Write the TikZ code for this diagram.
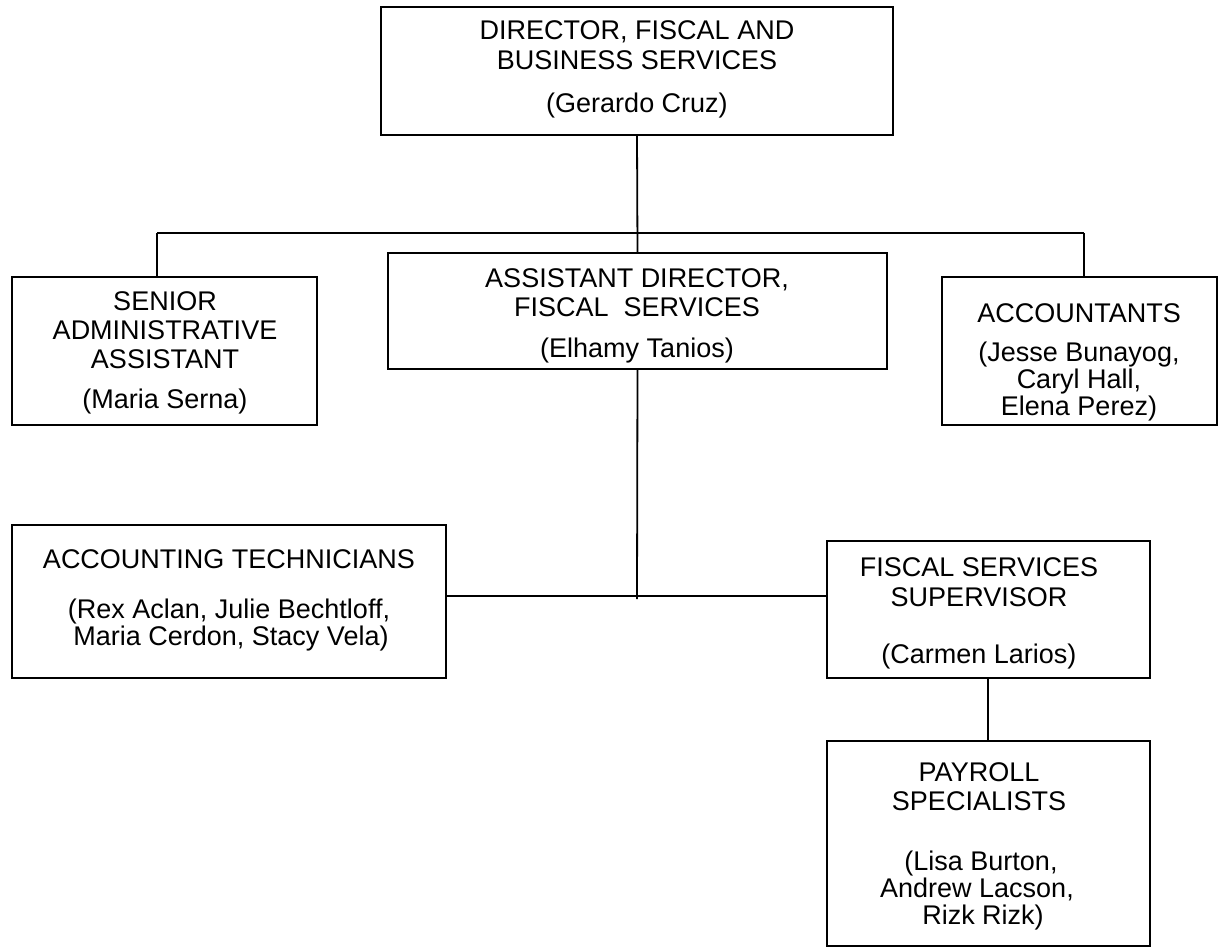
\documentclass[tikz,border=0pt]{standalone}
\usepackage{fontspec}
\setmainfont{Liberation Sans}
\begin{document}
\begin{tikzpicture}[x=1pt,y=-1pt,
  box/.style={draw=black, line width=1.8pt, rectangle, inner sep=0pt, fill=white},
  conn/.style={draw=black, line width=1.8pt},
  txt/.style={anchor=base, inner sep=0pt, font=\fontsize{27}{32}\selectfont}]
\useasboundingbox[fill=white] (0,0) rectangle (1229,947);
% boxes (centre, size)
\node[box, minimum width=512pt, minimum height=128pt] (dir) at (637,71) {};
\node[box, minimum width=305pt, minimum height=148pt] (sa) at (164.5,351) {};
\node[box, minimum width=499pt, minimum height=116pt] (ad) at (637.5,311) {};
\node[box, minimum width=275pt, minimum height=148pt] (acc) at (1079.5,351) {};
\node[box, minimum width=434pt, minimum height=153pt] (tech) at (229,601.5) {};
\node[box, minimum width=323pt, minimum height=137pt] (sup) at (988.5,609.5) {};
\node[box, minimum width=323pt, minimum height=205pt] (pay) at (988.5,843.5) {};
% texts
\node[txt] (dirA) at (637,40) {DIRECTOR, FISCAL AND};
\node[txt] (dirB) at (637,70) {BUSINESS SERVICES};
\node[txt] (dirC) at (637,113) {(Gerardo Cruz)};
\node[txt] (saA) at (165,310) {SENIOR};
\node[txt] (saB) at (165,339) {ADMINISTRATIVE};
\node[txt] (saC) at (165,368) {ASSISTANT};
\node[txt] (saD) at (165,408) {(Maria Serna)};
\node[txt] (adA) at (637,287) {ASSISTANT DIRECTOR,};
\node[txt] (adB) at (637,316) {FISCAL\ \ SERVICES};
\node[txt] (adC) at (637,357) {(Elhamy Tanios)};
\node[txt] (accA) at (1079,322) {ACCOUNTANTS};
\node[txt] (accB) at (1079,361) {(Jesse Bunayog,};
\node[txt] (accC) at (1079,388) {Caryl Hall,};
\node[txt] (accD) at (1079,415) {Elena Perez)};
\node[txt] (techA) at (229,568) {ACCOUNTING TECHNICIANS};
\node[txt] (techB) at (229,618) {(Rex Aclan, Julie Bechtloff,};
\node[txt] (techC) at (231,645) {Maria Cerdon, Stacy Vela)};
\node[txt] (supA) at (979,576) {FISCAL SERVICES};
\node[txt] (supB) at (979,606) {SUPERVISOR};
\node[txt] (supC) at (979,663) {(Carmen Larios)};
\node[txt] (payA) at (979,781) {PAYROLL};
\node[txt] (payB) at (979,810) {SPECIALISTS};
\node[txt] (payC) at (981,870) {(Lisa Burton,};
\node[txt] (payD) at (977,897) {Andrew Lacson,};
\node[txt] (payE) at (983,924) {Rizk Rizk)};
% connector points
\coordinate (busL) at (157,233);
\coordinate (busR) at (1084,233);
\coordinate (busM) at (637,596);
\coordinate (midEnd) at (637,599);
\coordinate (supLine) at (988,0);
% connectors
\draw[conn] (busL) -- (busR);
\draw[conn] (busL) -- (busL |- sa.north);
\draw[conn] (busR) -- (busR |- acc.north);
\draw[conn] (dir.south) -- (ad.north);
\draw[conn] (ad.south) -- (midEnd);
\draw[conn] (tech.east |- busM) -- (sup.west |- busM);
\draw[conn] (sup.south -| supLine) -- (pay.north -| supLine);
\end{tikzpicture}
\end{document}
